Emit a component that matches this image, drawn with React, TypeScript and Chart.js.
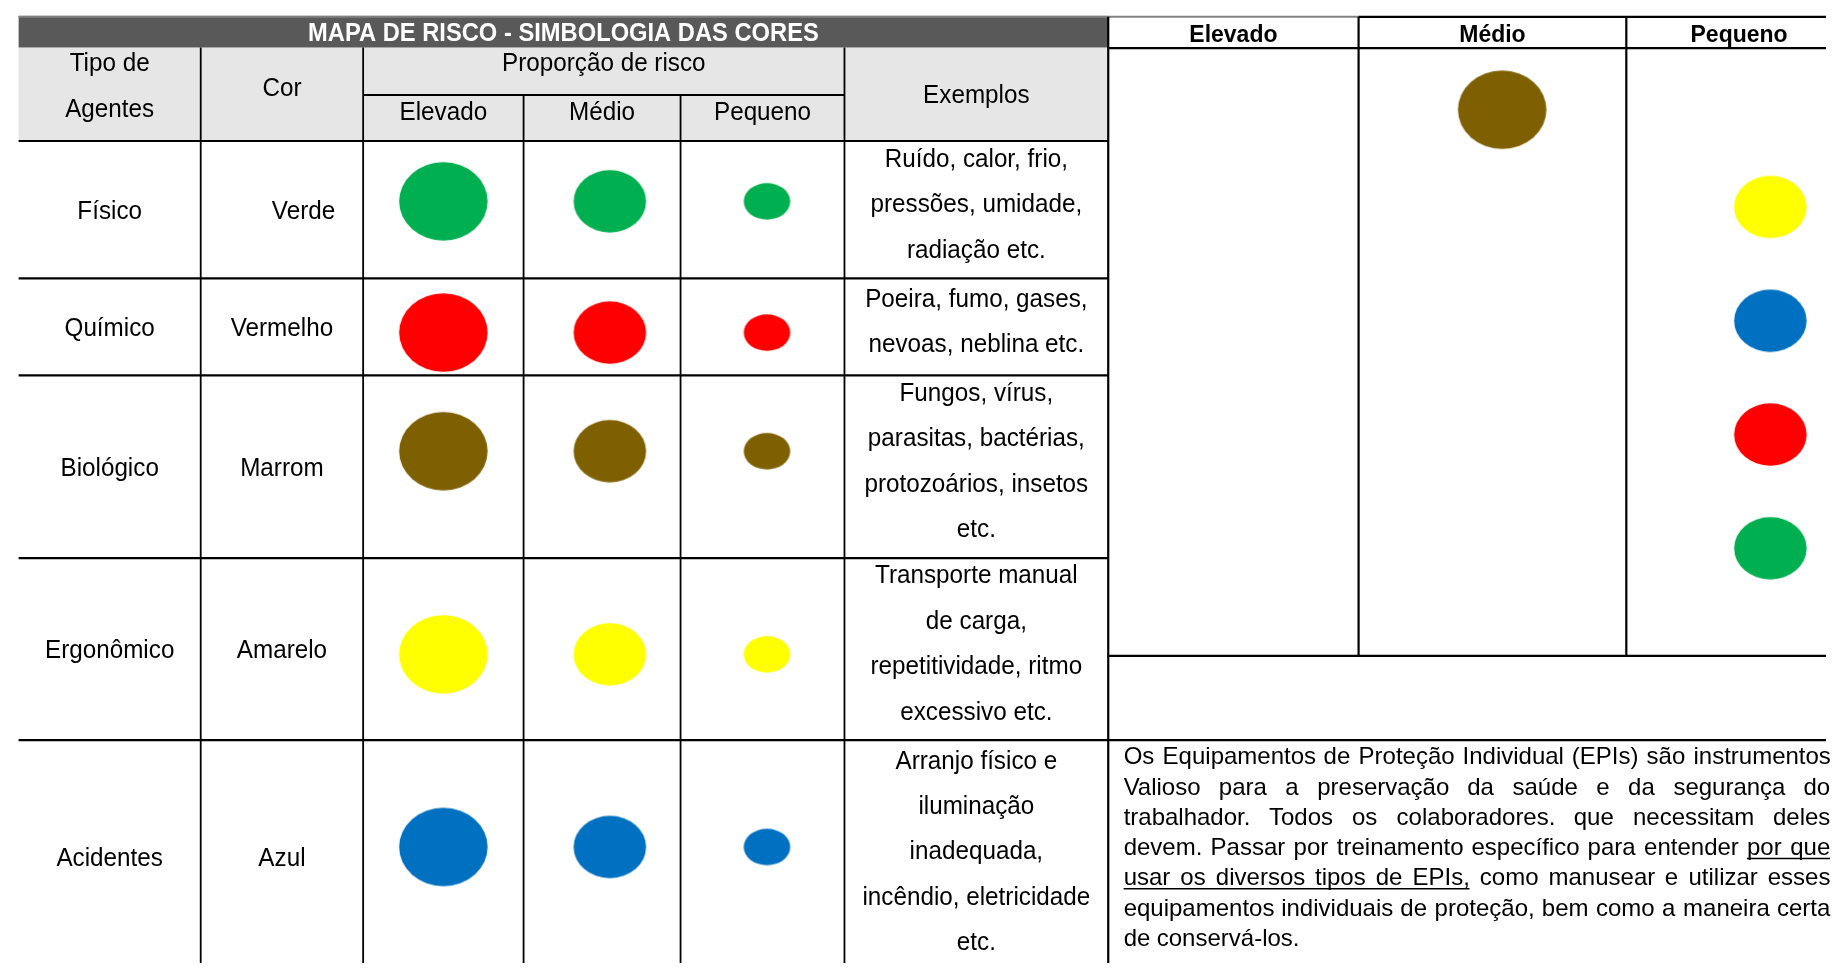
import React, { useEffect, useRef } from "react";
import { Chart, registerables } from "chart.js";
Chart.register(...registerables);

// ---------------- DATA ----------------
const title = "MAPA DE RISCO - SIMBOLOGIA DAS CORES";
const headerTipo = ["Tipo de", "Agentes"];
const headerCor = "Cor";
const headerProporcao = "Proporção de risco";
const headerExemplos = "Exemplos";
const levels = ["Elevado", "Médio", "Pequeno"];
const levelSize = [3, 2, 1];
const agents = ["Físico", "Químico", "Biológico", "Ergonômico", "Acidentes"];
const colorNames = ["Verde", "Vermelho", "Marrom", "Amarelo", "Azul"];
const agentColors = ["#00b050", "#ff0000", "#7f6000", "#ffff00", "#0070c0"];
const examples = [
  ["Ruído, calor, frio,", "pressões, umidade,", "radiação etc."],
  ["Poeira, fumo, gases,", "nevoas, neblina etc."],
  ["Fungos, vírus,", "parasitas, bactérias,", "protozoários, insetos", "etc."],
  ["Transporte manual", "de carga,", "repetitividade, ritmo", "excessivo etc."],
  ["Arranjo físico e", "iluminação", "inadequada,", "incêndio, eletricidade", "etc."],
];
const legendAgents = ["Biológico", "Ergonômico", "Acidentes", "Químico", "Físico"];
const legendLevels = ["Médio", "Pequeno", "Pequeno", "Pequeno", "Pequeno"];
const legendSize = [3, 2, 2, 2, 2];
const paragraph = [
  "Os Equipamentos de Proteção Individual (EPIs) são instrumentos",
  "Valioso para a preservação da saúde e da segurança do",
  "trabalhador. Todos os colaboradores. que necessitam deles",
  "devem. Passar por treinamento específico para entender por que",
  "usar os diversos tipos de EPIs, como manusear e utilizar esses",
  "equipamentos individuais de proteção, bem como a maneira certa",
  "de conservá-los.",
];
const paragraphUnderline: number[][][] = [[], [], [], [[7, 8]], [[0, 5]], [], []];

// ---------------- LAYOUT / STYLE ----------------
const W = 1832;
const H = 969;
const LAY = {
  titleTop: 10,
  titleBottom: 42,
  col: [12.7, 196, 359.5, 521, 679, 844, 1109.5],
  rCol: [1109.5, 1361.5, 1631, 1858],
  subHeaderY: 90,
  headerBottom: 136.7,
  rowEdges: [136.7, 275.7, 374, 559, 743.3, 980],
  rTop: 11,
  rHeaderBottom: 42.7,
  rGridBottom: 658,
  levelBubbleX: [440.2, 607.8, 766],
  rowBubbleY: [197.8, 330.7, 450.8, 656.5, 851.5],
  rLevelBubbleX: { "Médio": 1506, "Pequeno": 1776 } as Record<string, number>,
  rLevelStartY: { "Médio": 105, "Pequeno": 203.5 } as Record<string, number>,
  rSlotStep: 115.2,
  paraX: 1125,
  paraRight: 1836,
  paraBase0: 768,
  paraLineH: 30.6,
  exLineH: 46,
  exBaseOff: 25.5,
};
const ELLIPSE_WH: Record<number, [number, number]> = {
  3: [88.5, 78.3],
  2: [72.5, 62.5],
  1: [46.5, 36.5],
};
const FONT = '"Liberation Sans", Arial, sans-serif';
const BODY_SIZE = 25;
const BODY_SX = 0.97;
const corAlign = ["right", "center", "center", "center", "center"];
const corRightX = 331.4;

function makeEllipse(color: string, size: number): HTMLCanvasElement {
  const [w, h] = ELLIPSE_WH[size];
  const c = document.createElement("canvas");
  c.width = Math.ceil(w) + 2;
  c.height = Math.ceil(h) + 2;
  const g = c.getContext("2d")!;
  g.fillStyle = color;
  g.beginPath();
  g.ellipse(c.width / 2, c.height / 2, w / 2, h / 2, 0, 0, Math.PI * 2);
  g.fill();
  return c;
}

function txt(
  ctx: CanvasRenderingContext2D,
  s: string,
  x: number,
  y: number,
  o: { size?: number; bold?: boolean; sx?: number; align?: CanvasTextAlign; color?: string } = {}
) {
  const { size = BODY_SIZE, bold = false, sx = BODY_SX, align = "center", color = "#000" } = o;
  ctx.save();
  ctx.font = `${bold ? "bold " : ""}${size}px ${FONT}`;
  ctx.fillStyle = color;
  ctx.textAlign = align;
  ctx.textBaseline = "alphabetic";
  ctx.translate(x, y);
  ctx.scale(sx, 1);
  ctx.fillText(s, 0, 0);
  ctx.restore();
}

const tablePlugin = {
  id: "riskTable",
  beforeDatasetsDraw(chart: any) {
    const ctx: CanvasRenderingContext2D = chart.ctx;
    const X = (v: number) => chart.scales.x.getPixelForValue(v);
    const Y = (v: number) => chart.scales.y.getPixelForValue(v);
    const C = LAY.col;
    const R = LAY.rCol;
    ctx.save();
    ctx.fillStyle = "#ffffff";
    ctx.fillRect(0, 0, chart.width, chart.height);

    // header fill
    ctx.fillStyle = "#e7e6e6";
    ctx.fillRect(X(C[0]), Y(LAY.titleBottom), X(C[6]) - X(C[0]), Y(LAY.headerBottom) - Y(LAY.titleBottom));
    // title bar
    ctx.fillStyle = "#595959";
    ctx.fillRect(X(C[0]), Y(LAY.titleTop), X(C[6]) - X(C[0]), Y(LAY.titleBottom) - Y(LAY.titleTop));

    const hLine = (x1: number, x2: number, y: number, w = 2, col = "#000") => {
      ctx.strokeStyle = col;
      ctx.lineWidth = w;
      ctx.beginPath();
      ctx.moveTo(X(x1), Y(y));
      ctx.lineTo(X(x2), Y(y));
      ctx.stroke();
    };
    const vLine = (x: number, y1: number, y2: number, w = 1.8, col = "#000") => {
      ctx.strokeStyle = col;
      ctx.lineWidth = w;
      ctx.beginPath();
      ctx.moveTo(X(x), Y(y1));
      ctx.lineTo(X(x), Y(y2));
      ctx.stroke();
    };

    // top borders
    hLine(C[0], R[1], LAY.rTop, 2, "#808080");
    hLine(R[1], W, LAY.rTop, 2.2);
    hLine(R[0], W, LAY.rHeaderBottom, 2.2);
    // left table lines
    vLine(C[1], LAY.titleBottom, H);
    vLine(C[2], LAY.titleBottom, H);
    vLine(C[3], LAY.subHeaderY, H);
    vLine(C[4], LAY.subHeaderY, H);
    vLine(C[5], LAY.titleBottom, H);
    vLine(C[6], LAY.rTop, H, 2.2);
    hLine(C[2], C[5], LAY.subHeaderY, 2);
    LAY.rowEdges.slice(0, 4).forEach((y) => hLine(C[0], C[6], y, 2.2));
    hLine(C[0], W, LAY.rowEdges[4], 2.2);
    // right grid
    vLine(R[1], LAY.rTop, LAY.rGridBottom, 2.2);
    vLine(R[2], LAY.rTop, LAY.rGridBottom, 2.2);
    hLine(R[0], W, LAY.rGridBottom, 2.2);

    // title
    txt(ctx, title, X((C[0] + C[6]) / 2), Y(35.8), { size: 26.5, bold: true, sx: 0.895, color: "#ffffff" });
    // header texts
    const mid = (a: number, b: number) => (a + b) / 2;
    txt(ctx, headerTipo[0], X(mid(C[0], C[1])), Y(65.5));
    txt(ctx, headerTipo[1], X(mid(C[0], C[1])), Y(112.5));
    txt(ctx, headerCor, X(mid(C[1], C[2])), Y(91.5));
    txt(ctx, headerProporcao, X(mid(C[2], C[5])), Y(66));
    levels.forEach((lv, i) => txt(ctx, lv, X(mid(C[2 + i], C[3 + i])), Y(115.5)));
    txt(ctx, headerExemplos, X(mid(C[5], C[6])), Y(98));
    // right header
    levels.forEach((lv, i) => txt(ctx, lv, X(mid(R[i], R[i + 1])), Y(36), { size: 23, bold: true, sx: 1 }));

    // rows
    agents.forEach((a, i) => {
      const top = LAY.rowEdges[i];
      const bot = LAY.rowEdges[i + 1];
      const base = mid(top, bot) + 9;
      txt(ctx, a, X(mid(C[0], C[1])), Y(base));
      if (corAlign[i] === "right") txt(ctx, colorNames[i], X(corRightX), Y(base), { align: "right" });
      else txt(ctx, colorNames[i], X(mid(C[1], C[2])), Y(base));
      const lines = examples[i];
      const blockTop = mid(top, bot) - (lines.length * LAY.exLineH) / 2;
      lines.forEach((ln, k) => {
        txt(ctx, ln, X(mid(C[5], C[6])), Y(blockTop + k * LAY.exLineH + LAY.exBaseOff));
      });
    });

    // paragraph (justified)
    const PSX = 1.0;
    ctx.save();
    ctx.font = `24px ${FONT}`;
    ctx.fillStyle = "#000";
    ctx.textAlign = "left";
    ctx.textBaseline = "alphabetic";
    paragraph.forEach((line, i) => {
      const words = line.split(" ");
      const ws = words.map((w) => ctx.measureText(w).width * PSX);
      const total = ws.reduce((s, v) => s + v, 0);
      const last = i === paragraph.length - 1;
      const gap = last ? ctx.measureText(" ").width * PSX : (LAY.paraRight - LAY.paraX - total) / (words.length - 1);
      const y = LAY.paraBase0 + i * LAY.paraLineH;
      const xs: number[] = [];
      let x = LAY.paraX;
      words.forEach((w, k) => {
        xs.push(x);
        ctx.save();
        ctx.translate(X(x), Y(y));
        ctx.scale(PSX, 1);
        ctx.fillText(w, 0, 0);
        ctx.restore();
        x += ws[k] + gap;
      });
      paragraphUnderline[i].forEach(([a, b]) => {
        ctx.strokeStyle = "#000";
        ctx.lineWidth = 1.5;
        ctx.beginPath();
        ctx.moveTo(X(xs[a]), Y(y + 3.5));
        ctx.lineTo(X(xs[b] + ws[b]), Y(y + 3.5));
        ctx.stroke();
      });
    });
    ctx.restore();
    ctx.restore();
  },
};

export default function App() {
  const ref = useRef<HTMLCanvasElement | null>(null);
  useEffect(() => {
    if (!ref.current) return;
    const pts: any[] = [];
    const styles: HTMLCanvasElement[] = [];
    agents.forEach((a, ai) => {
      levels.forEach((lv, li) => {
        pts.push({ x: LAY.levelBubbleX[li], y: LAY.rowBubbleY[ai] });
        styles.push(makeEllipse(agentColors[ai], levelSize[li]));
      });
    });
    const lpts: any[] = [];
    const lstyles: HTMLCanvasElement[] = [];
    const countPerLevel: Record<string, number> = {};
    legendAgents.forEach((a, i) => {
      const ai = agents.indexOf(a);
      const lv = legendLevels[i];
      const k = countPerLevel[lv] || 0;
      countPerLevel[lv] = k + 1;
      lpts.push({ x: LAY.rLevelBubbleX[lv], y: LAY.rLevelStartY[lv] + k * LAY.rSlotStep });
      lstyles.push(makeEllipse(agentColors[ai], legendSize[i]));
    });
    const chart = new Chart(ref.current, {
      type: "scatter",
      data: {
        datasets: [
          { label: "Proporção de risco", data: pts, pointStyle: styles as any, pointRadius: 5 },
          { label: "Legenda", data: lpts, pointStyle: lstyles as any, pointRadius: 5 },
        ],
      },
      options: {
        animation: false,
        responsive: false,
        events: [],
        layout: { padding: 0 },
        plugins: { legend: { display: false }, tooltip: { enabled: false }, title: { display: false } },
        scales: {
          x: { type: "linear", min: 0, max: W, display: false },
          y: { type: "linear", min: 0, max: H, reverse: true, display: false },
        },
      },
      plugins: [tablePlugin],
    });
    return () => chart.destroy();
  }, []);
  return (
    <div style={{ position: "fixed", left: 0, top: 0, width: W, height: H, background: "#fff" }}>
      <canvas ref={ref} width={W} height={H} style={{ display: "block" }} />
    </div>
  );
}
